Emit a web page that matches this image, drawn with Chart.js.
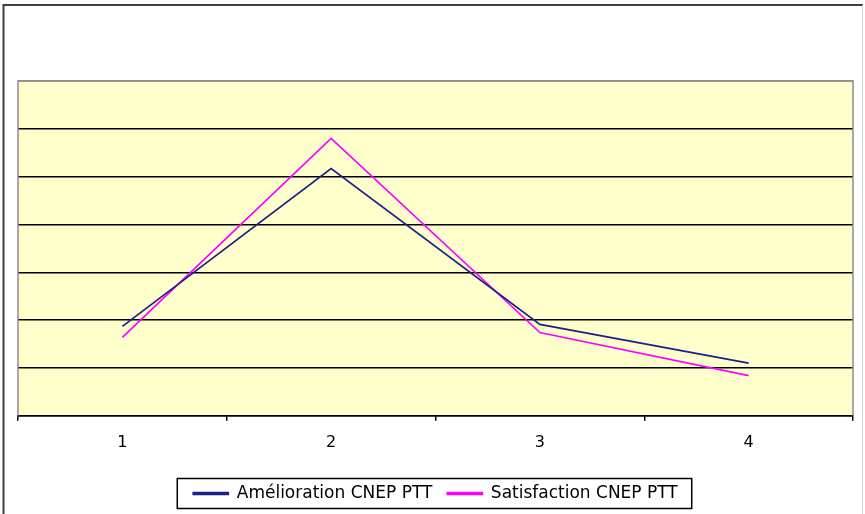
<!DOCTYPE html>
<html>
<head>
<meta charset="utf-8">
<script src="https://cdn.jsdelivr.net/npm/chart.js@4"></script>
<style>
  html, body { margin: 0; padding: 0; background: #fff; }
  #wrap { width: 865px; height: 514px; }
</style>
</head>
<body>
<div id="wrap"><canvas id="chart"></canvas></div>
<script>
const categories = ["1", "2", "3", "4"];
const seriesNames = ["Amélioration CNEP PTT", "Satisfaction CNEP PTT"];
const ameliorationValues = [1.87, 5.17, 1.91, 1.10];
const satisfactionValues = [1.64, 5.80, 1.74, 0.84];

// fond jaune + cadres
const framePlugin = {
  id: "frame",
  beforeDraw(chart) {
    const { ctx, chartArea: a } = chart;
    ctx.save();
    ctx.fillStyle = "#ffffcc";
    ctx.fillRect(a.left, a.top, a.right - a.left, a.bottom - a.top);
    ctx.restore();
  },
  afterDraw(chart) {
    const { ctx, chartArea: a } = chart;
    ctx.save();
    // bord du graphique
    ctx.strokeStyle = "#8c8c8c";
    ctx.lineWidth = 1.5;
    ctx.beginPath();
    ctx.moveTo(a.left, a.bottom);
    ctx.lineTo(a.left, a.top);
    ctx.lineTo(a.right, a.top);
    ctx.lineTo(a.right, a.bottom);
    ctx.stroke();
    // cadre extérieur
    ctx.strokeStyle = "#404040";
    ctx.lineWidth = 2;
    ctx.beginPath();
    ctx.moveTo(3.5, 514);
    ctx.lineTo(3.5, 5);
    ctx.lineTo(863, 5);
    ctx.stroke();
    ctx.strokeStyle = "#d8d8d8";
    ctx.lineWidth = 1;
    ctx.beginPath();
    ctx.moveTo(862.5, 5);
    ctx.lineTo(862.5, 514);
    ctx.stroke();
    // boîte de légende
    const boxes = chart.legend.legendHitBoxes;
    if (boxes && boxes.length) {
      const first = boxes[0];
      const last = boxes[boxes.length - 1];
      const cy = first.top + first.height / 2;
      const left = first.left - 16;
      const right = last.left + last.width + 14;
      ctx.strokeStyle = "#000";
      ctx.lineWidth = 1.5;
      ctx.strokeRect(left, cy - 15, right - left, 30);
    }
    ctx.restore();
  },
};

new Chart(document.getElementById("chart"), {
  type: "line",
  data: {
    labels: categories,
    datasets: [
      {
        label: seriesNames[0],
        data: ameliorationValues,
        borderColor: "#1f1f8a",
        backgroundColor: "#1f1f8a",
        borderWidth: 1.7,
        pointRadius: 0,
        tension: 0,
      },
      {
        label: seriesNames[1],
        data: satisfactionValues,
        borderColor: "#ff00ff",
        backgroundColor: "#ff00ff",
        borderWidth: 1.7,
        pointRadius: 0,
        tension: 0,
      },
    ],
  },
  options: {
    responsive: true,
    maintainAspectRatio: false,
    animation: false,
    layout: { padding: { left: 18, right: 12, top: 81, bottom: 2 } },
    plugins: {
      tooltip: { enabled: false },
      legend: {
        position: "bottom",
        labels: {
          boxWidth: 35,
          boxHeight: 2,
          padding: 15,
          color: "#000",
          font: { family: "DejaVu Sans", size: 17 },
        },
      },
    },
    scales: {
      x: {
        offset: true,
        afterFit: (scale) => { scale.height += 6; },
        grid: {
          offset: true,
          drawOnChartArea: false,
          tickLength: 5,
          color: "#000",
          lineWidth: 1.5,
        },
        border: { color: "#000", width: 1.5 },
        ticks: { color: "#000", padding: 12, font: { family: "DejaVu Sans", size: 16 } },
      },
      y: {
        min: 0,
        max: 7,
        ticks: { display: false, stepSize: 1 },
        grid: {
          drawTicks: false,
          color: (c) => (c.tick && c.tick.value === 7 ? "#8c8c8c" : "#000"),
          lineWidth: 1.5,
        },
        border: { display: false },
      },
    },
  },
  plugins: [framePlugin],
});
</script>
</body>
</html>
